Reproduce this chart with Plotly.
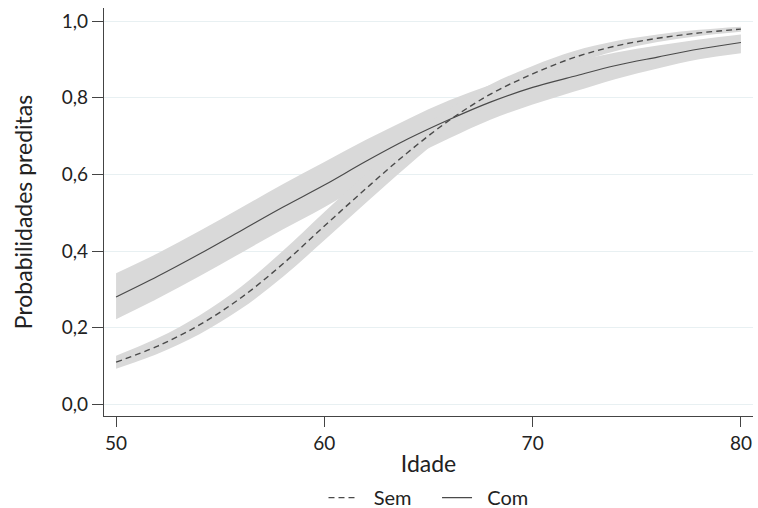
import plotly.graph_objects as go

idade = [50, 52, 54, 56, 58, 60, 62, 64, 66, 68, 70, 72, 74, 76, 78, 80]

sem = [0.110, 0.152, 0.207, 0.278, 0.366, 0.465, 0.563, 0.657, 0.741, 0.810, 0.862, 0.905, 0.935, 0.955, 0.969, 0.979]
sem_lo = [0.093, 0.132, 0.183, 0.249, 0.332, 0.428, 0.526, 0.622, 0.711, 0.785, 0.841, 0.888, 0.922, 0.945, 0.961, 0.972]
sem_hi = [0.127, 0.173, 0.232, 0.307, 0.400, 0.502, 0.600, 0.692, 0.771, 0.835, 0.883, 0.922, 0.948, 0.965, 0.977, 0.985]

com = [0.280, 0.334, 0.392, 0.453, 0.514, 0.572, 0.634, 0.692, 0.743, 0.789, 0.827, 0.856, 0.884, 0.906, 0.927, 0.944]
com_lo = [0.222, 0.276, 0.334, 0.395, 0.456, 0.514, 0.579, 0.640, 0.694, 0.743, 0.782, 0.816, 0.849, 0.876, 0.900, 0.916]
com_hi = [0.342, 0.394, 0.452, 0.513, 0.574, 0.632, 0.690, 0.744, 0.793, 0.834, 0.869, 0.895, 0.918, 0.936, 0.952, 0.965]

series_names = ["Sem", "Com"]
x_ticks = [50, 60, 70, 80]
y_ticks = [0.0, 0.2, 0.4, 0.6, 0.8, 1.0]

band = "#d9d9d9"
linec = "#4a4a4a"
font = "Lato"
pad = "\u00a0\u00a0"

fig = go.Figure()
for lo, hi in [(com_lo, com_hi), (sem_lo, sem_hi)]:
    fig.add_trace(go.Scatter(x=idade, y=hi, mode="lines", line=dict(width=0, shape="spline", color=band),
                             showlegend=False, hoverinfo="skip"))
    fig.add_trace(go.Scatter(x=idade, y=lo, mode="lines", line=dict(width=0, shape="spline", color=band),
                             fill="tonexty", fillcolor=band, showlegend=False, hoverinfo="skip"))

fig.add_trace(go.Scatter(x=idade, y=sem, mode="lines", name=pad + series_names[0] + pad + pad,
                         line=dict(color=linec, width=1.4, dash="6px,4px", shape="spline")))
fig.add_trace(go.Scatter(x=idade, y=com, mode="lines", name=pad + series_names[1],
                         line=dict(color=linec, width=1.2, shape="spline")))

fig.update_layout(
    width=758, height=508,
    margin=dict(l=104, r=5, t=8, b=92, autoexpand=False),
    paper_bgcolor="white", plot_bgcolor="white",
    separators=",.",
    font=dict(family=font, size=19, color="#222"),
    legend=dict(orientation="h", x=0.5, xanchor="center", y=-0.2, yanchor="middle",
                traceorder="normal", itemwidth=30, font=dict(size=20), bgcolor="rgba(0,0,0,0)"),
    xaxis=dict(range=[49.42, 80.58], tickvals=x_ticks, showgrid=False, zeroline=False,
               showline=True, linecolor="#444", linewidth=1.2, automargin=False,
               ticks="outside", ticklen=10, tickcolor="#444", tickwidth=1,
               title=dict(text="Idade", standoff=2), tickfont=dict(size=19)),
    yaxis=dict(range=[-0.0305, 1.034], tickvals=y_ticks, tickformat=".1f",
               showgrid=True, gridcolor="#e8f0f2", gridwidth=1.2, zeroline=False,
               showline=True, linecolor="#444", linewidth=1.2, automargin=False,
               ticks="outside", ticklen=11, tickcolor="#444", tickwidth=1,
               title=dict(text="Probabilidades preditas", standoff=22), tickfont=dict(size=19)),
)

fig.write_html("out.html", config={"displayModeBar": False},
               post_script="document.body.style.margin='0';document.body.style.padding='0';document.body.style.overflow='hidden';")
